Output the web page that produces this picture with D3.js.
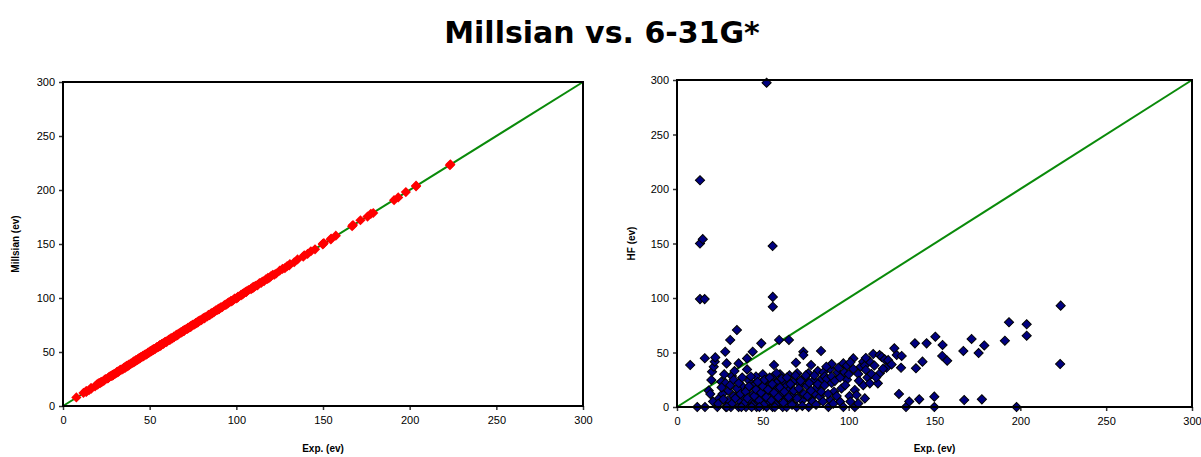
<!DOCTYPE html>
<html>
<head>
<meta charset="utf-8">
<script src="https://cdn.jsdelivr.net/npm/d3@7"></script>
<style>
  body { margin: 0; background: #fff; }
  .tick text { font-family: "Liberation Sans", Arial, sans-serif; font-size: 11px; fill: #000; }
  .tick line { stroke: #333; stroke-width: 1.5; }
  .axis-title { font-family: "Liberation Sans", Arial, sans-serif; font-size: 10px; font-weight: bold; fill: #000; }
</style>
</head>
<body>
<svg id="chart" width="1201" height="457"></svg>
<script>
// experimental energies (ev) of the molecule set
var expEv = [
  7.7, 11.8, 13.4, 13.4, 15.0, 13.4, 16.1, 16.3, 16.2, 18.5,
  19.4, 20.0, 20.4, 21.4, 22.0, 22.3, 23.5, 21.0, 24.5, 25.8,
  26.5, 28.1, 28.5, 28.9, 28.3, 29.5, 31.0, 31.4, 32.0, 33.0,
  34.9, 35.9, 35.9, 36.5, 37.0, 38.0, 39.0, 40.2, 40.8, 40.8,
  41.5, 42.0, 43.0, 44.1, 44.5, 45.0, 46.4, 46.0, 47.0, 47.5,
  48.5, 49.1, 49.5, 50.0, 51.0, 51.5, 52.2, 52.2, 52.5, 53.0,
  54.0, 54.5, 55.7, 55.8, 55.8, 55.7, 56.5, 56.0, 57.0, 58.0,
  58.5, 59.5, 59.0, 60.0, 61.0, 61.6, 62.0, 63.0, 63.9, 63.9,
  65.2, 65.5, 65.9, 66.5, 67.8, 68.5, 69.3, 69.7, 70.0, 71.7,
  72.0, 73.0, 73.6, 73.6, 74.5, 75.6, 76.5, 76.7, 77.5, 78.1,
  79.5, 80.5, 81.5, 82.0, 83.3, 83.9, 84.5, 85.3, 86.0, 87.2,
  88.2, 89.2, 89.2, 90.1, 90.1, 91.5, 93.6, 95.0, 95.8, 96.9,
  96.9, 97.5, 99.0, 100.5, 102.7, 102.7, 103.6, 103.6, 104.6, 105.6,
  105.6, 107.0, 108.5, 108.5, 109.4, 109.4, 111.0, 112.3, 113.3, 114.3,
  117.0, 118.0, 118.2, 119.2, 121.0, 122.0, 126.6, 128.0, 129.3, 130.5,
  130.9, 133.4, 135.3, 138.6, 139.2, 141.1, 143.0, 145.4, 149.9, 149.9,
  150.5, 154.7, 154.5, 157.4, 166.8, 167.3, 171.6, 175.7, 177.6, 179.0,
  191.0, 193.4, 197.8, 203.7, 203.7, 223.5, 223.2,
  24.0, 26.0, 27.0, 30.0, 31.0, 32.0, 33.0, 34.0, 35.0, 36.0,
  37.0, 38.0, 39.0, 40.0, 41.0, 42.0, 43.0, 44.0, 45.0, 46.0,
  47.0, 48.0, 49.0, 50.0, 50.5, 51.0, 52.0, 53.0, 54.0, 55.0,
  55.5, 56.5, 57.5, 58.0, 59.0, 60.0, 61.0, 62.0, 62.5, 64.0,
  65.0, 66.0, 67.0, 68.0, 69.0, 70.0, 71.0, 72.0, 73.0, 74.0,
  75.0, 76.0, 77.0, 78.0, 79.0, 80.0, 81.0, 82.0, 84.0, 85.0,
  86.0, 87.0, 88.0, 90.0, 91.0, 92.0, 93.0, 94.0, 95.0, 98.0,
  99.0, 100.0, 101.0, 106.0, 110.0, 112.0, 115.0, 116.0, 120.0, 123.0,
  125.0, 110.0, 101.0, 27.5, 29.0, 33.5, 37.5, 43.5, 48.0, 57.0
];

// Millsian calculated values, same order
var millsianEv = [
  7.9, 12.1, 13.0, 13.8, 14.6, 13.5, 16.4, 16.0, 16.5, 18.2,
  19.7, 19.8, 20.9, 21.1, 22.4, 22.0, 23.2, 21.3, 24.9, 25.5,
  26.8, 27.9, 28.9, 28.6, 28.0, 29.8, 30.7, 31.8, 31.7, 33.4,
  34.6, 36.2, 35.5, 36.9, 36.7, 38.3, 38.8, 40.5, 40.4, 41.1,
  41.2, 42.4, 42.7, 44.5, 44.2, 45.3, 46.1, 46.4, 46.8, 47.9,
  48.2, 49.4, 49.2, 50.3, 50.7, 51.9, 52.5, 51.9, 52.8, 52.7,
  54.3, 54.2, 55.4, 56.1, 55.5, 56.0, 56.2, 56.3, 57.4, 57.7,
  58.8, 59.2, 59.3, 59.7, 61.3, 61.2, 62.4, 62.7, 64.2, 63.6,
  65.5, 65.1, 66.3, 66.2, 68.1, 68.2, 69.6, 69.4, 70.4, 71.4,
  72.3, 72.7, 73.9, 73.3, 74.8, 75.3, 76.8, 76.4, 77.2, 78.5,
  79.2, 80.8, 81.2, 82.4, 83.0, 84.2, 84.1, 85.6, 85.7, 87.5,
  88.5, 88.9, 89.6, 89.8, 90.5, 91.2, 93.9, 94.7, 96.1, 96.6,
  97.3, 97.2, 99.4, 100.2, 103.0, 102.4, 103.9, 103.3, 104.9, 105.3,
  105.9, 107.4, 108.2, 108.8, 109.1, 109.8, 111.3, 112.0, 113.7, 114.0,
  117.3, 117.7, 118.6, 118.9, 121.4, 121.7, 126.9, 127.6, 129.6, 130.2,
  131.3, 133.1, 135.7, 138.3, 139.6, 140.8, 143.3, 145.1, 150.2, 149.6,
  150.9, 155.0, 154.2, 157.7, 166.5, 167.6, 172.0, 175.4, 177.9, 178.7,
  190.6, 193.1, 198.1, 204.0, 203.4, 223.8, 222.9,
  24.3, 25.7, 27.3, 29.7, 31.3, 31.8, 33.3, 33.7, 35.3, 35.8,
  37.3, 37.7, 39.3, 39.8, 41.3, 41.7, 43.3, 43.8, 45.2, 45.8,
  47.3, 47.7, 49.3, 49.8, 50.8, 50.7, 52.3, 52.8, 54.2, 54.7,
  55.8, 56.2, 57.8, 57.7, 59.3, 59.8, 61.3, 61.7, 62.8, 63.7,
  65.3, 65.7, 67.3, 67.8, 69.2, 69.7, 71.3, 71.8, 73.2, 73.7,
  75.3, 75.8, 77.2, 77.7, 79.3, 79.8, 81.3, 81.7, 84.3, 84.8,
  86.3, 86.7, 88.2, 89.7, 91.3, 91.8, 93.3, 93.7, 95.3, 97.8,
  99.3, 99.7, 101.3, 106.2, 110.3, 111.7, 115.3, 115.7, 120.3, 122.7,
  125.3, 109.7, 100.8, 27.8, 28.7, 33.8, 37.2, 43.8, 47.7, 57.3
];

// HF 6-31G* values, same order
var hfEv = [
  38.5, 0, 208, 150, 154, 99, 99, 0, 44.8, 15,
  12, 24.8, 32.4, 37, 41.6, 45.5, 0, 5, 8, 23.2,
  12, 50.7, 0, 40, 22, 6, 61.5, 0, 28.4, 10,
  70.6, 40, 0, 14, 5, 19, 9, 0, 34.5, 44.6,
  17, 24, 6, 50.7, 12, 20, 0, 28, 3, 15,
  22, 58.4, 8, 30, 18, 12, 297.5, 0, 25, 5,
  20, 15, 147.7, 101, 92, 0, 38.5, 28, 10, 22,
  17, 61.5, 3, 30, 12, 0, 24, 7, 19.6, 0,
  61.5, 29, 16.5, 4, 10.4, 24, 40.6, 0, 31, 21,
  14, 6, 50.7, 47.7, 27, 19.6, 30.9, 0, 7.9, 38.5,
  24.2, 12, 18, 33, 9.5, 51.4, 26, 31.8, 28, 25.7,
  0, 34.9, 6.4, 39.4, 22, 14, 31.8, 4.9, 17, 40,
  0, 31.8, 25, 10, 44.6, 34.9, 15.6, 0, 11, 30.3,
  3.3, 37, 41.6, 20, 38, 7.9, 27, 21.7, 30.3, 48.6,
  21.7, 47.7, 31, 46, 43.7, 36, 53.8, 47.7, 12, 36,
  46.8, 0, 5, 58.4, 35.5, 7, 41.6, 58.4, 9.5, 0,
  64.5, 56.9, 46.8, 42.5, 51.4, 6.4, 62.4, 49.5, 7, 56.5,
  60.8, 77.7, 0, 75.9, 65.4, 93, 39.4,
  3, 18, 7, 15, 20, 3, 25, 8, 17, 22,
  12, 27, 3, 14, 8, 19, 28, 2, 10, 16,
  23, 6, 13, 19, 2, 25, 9, 16, 27, 6,
  21, 13, 2, 31, 9, 18, 26, 4, 14, 27,
  9, 21, 2, 15, 29, 8, 17, 24, 1, 12,
  29, 10, 22, 15, 5, 29, 2, 21, 14, 5,
  20, 37, 12, 28, 3, 24, 10, 36, 27, 20,
  38, 30, 5, 24, 34, 42, 38, 27, 35, 43,
  39, 45, 41, 30, 0, 33, 0, 0, 0, 0
];

var axisTicks = [0, 50, 100, 150, 200, 250, 300];
var axisDomain = [0, 300];

var svg = d3.select("#chart");

svg.append("text")
  .attr("x", 602)
  .attr("y", 43)
  .attr("text-anchor", "middle")
  .style("font-family", "DejaVu Sans, Verdana, sans-serif")
  .style("font-weight", "bold")
  .style("font-size", "30px")
  .text("Millsian vs. 6-31G*");

function drawPanel(p) {
  var x = d3.scaleLinear().domain(axisDomain).range([p.left, p.right]);
  var y = d3.scaleLinear().domain(axisDomain).range([p.bottom, p.top]);
  var g = svg.append("g");

  g.append("g")
    .attr("transform", "translate(0," + p.bottom + ")")
    .call(d3.axisBottom(x).tickValues(axisTicks).tickSize(4).tickPadding(6))
    .call(function(a) { a.select(".domain").remove(); });

  g.append("g")
    .attr("transform", "translate(" + p.left + ",0)")
    .call(d3.axisLeft(y).tickValues(axisTicks).tickSize(4).tickPadding(4))
    .call(function(a) { a.select(".domain").remove(); });

  // y = x reference line
  g.append("line")
    .attr("x1", x(0)).attr("y1", y(0))
    .attr("x2", x(300)).attr("y2", y(300))
    .attr("stroke", "#0a8a0a")
    .attr("stroke-width", 2);

  var sym = d3.symbol().type(d3.symbolSquare).size(p.size);
  g.selectAll("path.pt")
    .data(d3.range(expEv.length))
    .enter().append("path")
      .attr("class", "pt")
      .attr("d", sym)
      .attr("transform", function(i) {
        return "translate(" + x(expEv[i]) + "," + y(p.values[i]) + ") rotate(45)";
      })
      .attr("fill", p.fill)
      .attr("stroke", p.stroke)
      .attr("stroke-width", p.stroke == "none" ? 0 : 1);

  g.append("rect")
    .attr("x", p.left).attr("y", p.top)
    .attr("width", p.right - p.left).attr("height", p.bottom - p.top)
    .attr("fill", "none")
    .attr("stroke", "#000")
    .attr("stroke-width", 2);

  g.append("text")
    .attr("class", "axis-title")
    .attr("x", (p.left + p.right) / 2)
    .attr("y", 452)
    .attr("text-anchor", "middle")
    .text("Exp. (ev)");

  g.append("text")
    .attr("class", "axis-title")
    .attr("transform", "translate(" + p.yTitleX + "," + ((p.top + p.bottom) / 2) + ") rotate(-90)")
    .attr("text-anchor", "middle")
    .text(p.yTitle);
}

drawPanel({ left: 63, right: 583, top: 82, bottom: 406, values: millsianEv,
  fill: "#ff0000", stroke: "none", size: 52, yTitle: "Millsian (ev)", yTitleX: 19 });

drawPanel({ left: 677, right: 1192, top: 80, bottom: 407, values: hfEv,
  fill: "#000080", stroke: "#000", size: 42, yTitle: "HF (ev)", yTitleX: 635 });
</script>
</body>
</html>
